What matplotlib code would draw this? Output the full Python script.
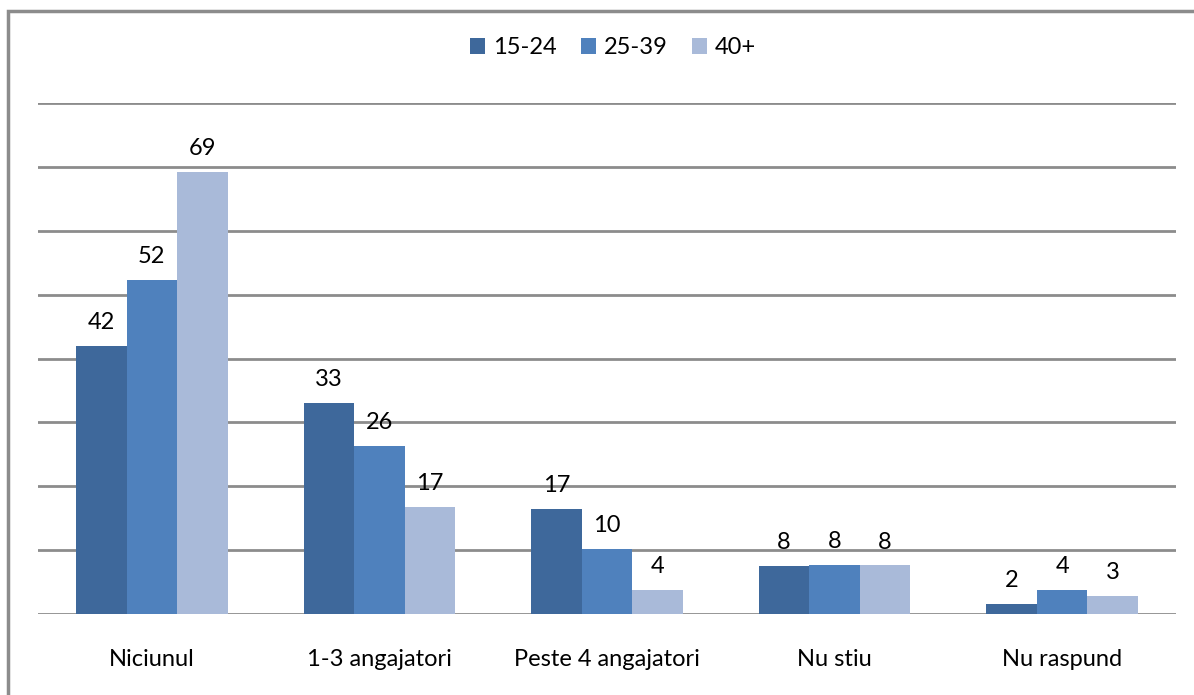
import numpy as np
import matplotlib.pyplot as plt
from matplotlib.patches import Rectangle

categories = ["Niciunul", "1-3 angajatori", "Peste 4 angajatori", "Nu stiu", "Nu raspund"]
series_names = ["15-24", "25-39", "40+"]
v_15_24 = [42, 33, 17, 8, 2]
v_25_39 = [52, 26, 10, 8, 4]
v_40 = [69, 17, 4, 8, 3]
# heights (labels are rounded)
h_15_24 = [42, 33, 16.5, 7.5, 1.6]
h_25_39 = [52.3, 26.3, 10.2, 7.7, 3.8]
h_40 = [69.2, 16.8, 3.8, 7.6, 2.8]

colors = ["#3E689B", "#4F81BD", "#A9BAD9"]

plt.rcParams['font.family'] = ['Lato', 'DejaVu Sans']

fig = plt.figure(figsize=(11.94, 6.95), dpi=100)
ax = fig.add_axes([38 / 1194, 81 / 695, 1138 / 1194, 511 / 695])

x = np.arange(len(categories))
w = 0.222
values = [v_15_24, v_25_39, v_40]
heights = [h_15_24, h_25_39, h_40]
for i in range(3):
    bars = ax.bar(x + (i - 1) * w, heights[i], w, color=colors[i], label=series_names[i], zorder=3)
    for b, v in zip(bars, values[i]):
        ax.text(b.get_x() + b.get_width() / 2, b.get_height() + 2.0, str(v),
                ha="center", va="bottom", fontsize=17, color="black")

ax.set_xlim(-0.5, 4.5)
ax.set_ylim(0, 80)
ax.set_yticks(np.arange(0, 81, 10))
ax.yaxis.grid(True, color="#8C8C8C", linewidth=2, zorder=0)
ax.tick_params(left=False, labelleft=False, bottom=False)
ax.set_xticks(x)
ax.set_xticklabels(categories, fontsize=17)
ax.tick_params(axis="x", pad=22)
for s in ax.spines.values():
    s.set_visible(False)

ax.legend(loc="center", bbox_to_anchor=(613 / 1194, 1 - 48 / 695), bbox_transform=fig.transFigure,
          ncol=3, frameon=False, fontsize=17, handlelength=0.65, handleheight=0.65,
          handletextpad=0.35, columnspacing=1.0)

fig.patches.append(Rectangle((8 / 1194, -0.1), 1.2, 1.1 - 11 / 695, transform=fig.transFigure,
                             fill=False, edgecolor="#8C8C8C", linewidth=2.5))

fig.savefig("out.png", dpi=100)
